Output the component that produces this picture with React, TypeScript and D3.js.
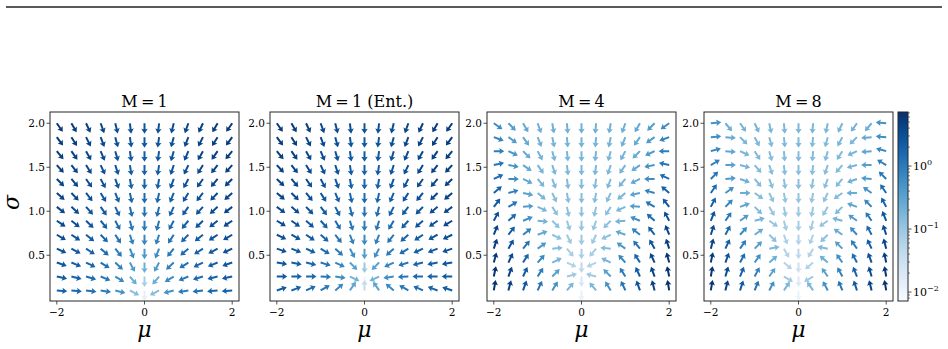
import React from "react";
import * as d3 from "d3";

// grid: mu columns (left half incl. 0, right half mirrored), sigma rows top -> bottom
const muValues = [-2, -1.667, -1.333, -1, -0.667, -0.333, 0, 0.333, 0.667, 1, 1.333, 1.667, 2];
const sigmaValues = [2.0, 1.842, 1.683, 1.525, 1.367, 1.208, 1.05, 0.892, 0.733, 0.575, 0.417, 0.258, 0.1];
const panelTitles = ["M=1", "M=1 (Ent.)", "M=4", "M=8"];
const xTicks = [-2, 0, 2];
const yTicks = [0.5, 1.0, 1.5, 2.0];
const cbarTicks = [-2, -1, 0];

// arrow direction (deg, 0 = +mu, 90 = +sigma), columns mu = -2 .. 0
const angM1 = [
  [-55, -60, -65, -70, -76, -83, -90],
  [-53, -58, -63, -69, -75, -82, -90],
  [-50, -55, -61, -67, -74, -82, -90],
  [-48, -52, -58, -65, -72, -81, -90],
  [-45, -50, -55, -62, -70, -80, -90],
  [-42, -46, -52, -59, -68, -78, -90],
  [-38, -42, -48, -55, -65, -77, -90],
  [-34, -38, -44, -51, -62, -75, -90],
  [-30, -33, -39, -46, -57, -72, -90],
  [-25, -28, -33, -40, -51, -68, -90],
  [-19, -22, -26, -32, -43, -62, -90],
  [-12, -14, -17, -22, -31, -50, -90],
  [-5, -6, -7, -9, -14, -28, -90],
];
const angM1Ent = [
  [-55, -60, -65, -70, -76, -83, -90],
  [-53, -58, -63, -69, -75, -82, -90],
  [-50, -55, -61, -67, -74, -82, -90],
  [-47, -52, -58, -65, -72, -81, -90],
  [-44, -49, -55, -62, -70, -80, -90],
  [-40, -45, -51, -58, -67, -78, -90],
  [-36, -40, -46, -53, -63, -76, -90],
  [-31, -35, -41, -48, -59, -73, -90],
  [-26, -29, -34, -41, -52, -69, -90],
  [-19, -21, -25, -31, -42, -62, -90],
  [-10, -11, -13, -17, -25, -45, -90],
  [0, 0, 0, -2, -8, -25, -90],
  [18, 20, 24, 30, 40, 55, 90],
];
const angM4 = [
  [-35, -45, -60, -70, -80, -85, -90],
  [-20, -35, -55, -68, -78, -85, -90],
  [0, -25, -45, -62, -75, -84, -90],
  [12, -10, -35, -55, -72, -83, -90],
  [25, 0, -25, -50, -70, -82, -90],
  [40, 15, -12, -40, -65, -80, -90],
  [52, 30, 5, -25, -58, -78, -90],
  [62, 42, 22, -5, -45, -72, -90],
  [68, 52, 38, 20, -25, -65, -90],
  [72, 60, 50, 35, 5, -50, -90],
  [75, 65, 58, 48, 25, -25, -90],
  [78, 70, 65, 58, 45, 15, -90],
  [80, 75, 70, 65, 58, 50, -90],
];
const angM8 = [
  [5, -50, -55, -65, -78, -85, -90],
  [5, -5, -45, -62, -75, -84, -90],
  [15, -5, -25, -58, -75, -85, -90],
  [30, 0, -15, -50, -72, -84, -90],
  [45, 5, -20, -50, -70, -82, -90],
  [55, 35, 0, -35, -65, -80, -90],
  [62, 45, 20, -45, -60, -80, -90],
  [68, 55, 35, 15, -35, -75, -90],
  [72, 62, 48, 35, -45, -70, -90],
  [75, 65, 55, 45, 10, -60, -90],
  [78, 70, 62, 55, 40, -40, -90],
  [80, 74, 68, 62, 55, -30, -90],
  [80, 76, 72, 68, 62, 55, -90],
];

// log10 of gradient norm (colour), columns mu = -2 .. 0
const magM1 = [
  [0.75, 0.71, 0.66, 0.61, 0.55, 0.49, 0.46],
  [0.73, 0.69, 0.64, 0.58, 0.51, 0.45, 0.42],
  [0.71, 0.67, 0.61, 0.55, 0.47, 0.4, 0.37],
  [0.69, 0.64, 0.58, 0.51, 0.43, 0.35, 0.32],
  [0.66, 0.61, 0.55, 0.47, 0.38, 0.29, 0.25],
  [0.63, 0.58, 0.51, 0.43, 0.32, 0.22, 0.18],
  [0.6, 0.54, 0.47, 0.38, 0.26, 0.14, 0.1],
  [0.56, 0.5, 0.42, 0.32, 0.19, 0.05, 0.0],
  [0.52, 0.45, 0.37, 0.26, 0.1, -0.06, -0.15],
  [0.47, 0.4, 0.31, 0.19, 0.02, -0.2, -0.35],
  [0.42, 0.34, 0.25, 0.12, -0.08, -0.38, -0.65],
  [0.36, 0.28, 0.18, 0.05, -0.18, -0.6, -1.1],
  [0.3, 0.22, 0.12, 0.0, -0.28, -0.85, -1.85],
];
const magM1Ent = [
  [0.75, 0.71, 0.66, 0.61, 0.55, 0.49, 0.46],
  [0.73, 0.69, 0.64, 0.58, 0.51, 0.45, 0.42],
  [0.71, 0.67, 0.61, 0.55, 0.47, 0.4, 0.37],
  [0.69, 0.64, 0.58, 0.51, 0.43, 0.35, 0.32],
  [0.66, 0.61, 0.55, 0.47, 0.38, 0.29, 0.25],
  [0.63, 0.58, 0.51, 0.43, 0.32, 0.22, 0.18],
  [0.6, 0.54, 0.47, 0.38, 0.26, 0.14, 0.1],
  [0.56, 0.5, 0.42, 0.32, 0.19, 0.04, -0.02],
  [0.52, 0.45, 0.37, 0.26, 0.1, -0.08, -0.18],
  [0.47, 0.4, 0.31, 0.19, 0.0, -0.22, -0.4],
  [0.42, 0.34, 0.24, 0.1, -0.12, -0.45, -1.0],
  [0.38, 0.3, 0.2, 0.05, -0.2, -0.7, -2.0],
  [0.35, 0.27, 0.17, 0.04, -0.15, -0.5, -1.4],
];
const magM4 = [
  [-0.2, -0.42, -0.58, -0.64, -0.67, -0.67, -0.67],
  [-0.12, -0.4, -0.58, -0.67, -0.7, -0.7, -0.7],
  [-0.04, -0.35, -0.58, -0.7, -0.73, -0.73, -0.73],
  [0.06, -0.28, -0.58, -0.72, -0.76, -0.76, -0.76],
  [0.17, -0.2, -0.55, -0.74, -0.8, -0.8, -0.8],
  [0.28, -0.08, -0.5, -0.75, -0.84, -0.84, -0.84],
  [0.4, 0.06, -0.42, -0.75, -0.88, -0.9, -0.9],
  [0.52, 0.2, -0.25, -0.7, -0.9, -0.96, -0.96],
  [0.63, 0.35, -0.07, -0.55, -0.9, -1.02, -1.02],
  [0.72, 0.47, 0.1, -0.37, -0.85, -1.1, -1.12],
  [0.78, 0.58, 0.25, -0.16, -0.75, -1.2, -1.3],
  [0.82, 0.64, 0.37, -0.02, -0.45, -1.05, -1.65],
  [0.85, 0.67, 0.43, 0.1, -0.25, -0.75, -1.9],
];
const magM8 = [
  [-0.28, -0.64, -0.7, -0.73, -0.76, -0.76, -0.76],
  [-0.22, -0.58, -0.73, -0.76, -0.79, -0.79, -0.79],
  [-0.14, -0.52, -0.73, -0.79, -0.82, -0.82, -0.82],
  [-0.05, -0.46, -0.7, -0.82, -0.85, -0.85, -0.85],
  [0.06, -0.38, -0.67, -0.82, -0.88, -0.88, -0.88],
  [0.18, -0.26, -0.62, -0.82, -0.92, -0.95, -0.95],
  [0.3, -0.12, -0.53, -0.8, -0.95, -1.0, -1.0],
  [0.44, 0.05, -0.38, -0.72, -0.95, -1.07, -1.1],
  [0.56, 0.2, -0.2, -0.6, -0.9, -1.14, -1.2],
  [0.65, 0.35, -0.03, -0.42, -0.8, -1.2, -1.32],
  [0.73, 0.47, 0.15, -0.24, -0.65, -1.2, -1.5],
  [0.79, 0.56, 0.29, -0.06, -0.45, -1.05, -1.72],
  [0.82, 0.62, 0.38, 0.08, -0.25, -0.75, -1.95],
];

const panelAngles = [angM1, angM1Ent, angM4, angM8];
const panelMags = [magM1, magM1Ent, magM4, magM8];

const W = 948;
const H = 349;
const panelLefts = [50, 270, 487, 704];
const panelTop = 112;
const panelSize = 189;
const cbar = { x: 898, y: 112, w: 10, h: 189 };
const FONT = "'DejaVu Serif', serif";
const logLo = -2.142;
const logHi = 0.858;
const INK = "#262626";

const color = d3.scaleSequential(d3.interpolateBlues).domain([logLo, logHi]);

// quiver arrow pointing +x, tail at origin
const L = 10.5, sw = 1.0, hl = 5.0, ha = 4.4, hw = 3.2;
const arrowPath = `M0,${-sw}L${L - ha},${-sw}L${L - hl},${-hw}L${L},0L${L - hl},${hw}L${L - ha},${sw}L0,${sw}Z`;

function cell(table: number[][], r: number, c: number) {
  return c <= 6 ? table[r][c] : table[r][12 - c];
}

function Panel({ idx }: { idx: number }) {
  const left = panelLefts[idx];
  const x = d3.scaleLinear().domain([-2.155, 2.155]).range([left, left + panelSize]);
  const y = d3.scaleLinear().domain([-0.02, 2.128]).range([panelTop + panelSize, panelTop]);
  const ang = panelAngles[idx];
  const mag = panelMags[idx];
  const arrows = [];
  sigmaValues.forEach((s, r) => {
    muValues.forEach((m, c) => {
      const a0 = cell(ang, r, c);
      const a = c <= 6 ? a0 : 180 - a0;
      arrows.push(
        <path
          key={`${r}-${c}`}
          d={arrowPath}
          transform={`translate(${x(m)},${y(s)}) rotate(${-a})`}
          fill={color(cell(mag, r, c))}
        />
      );
    });
  });
  const bottom = panelTop + panelSize;
  return (
    <g>
      <text x={left + panelSize / 2} y={panelTop - 5} textAnchor="middle" fontSize={16} fontFamily={FONT}>
        {panelTitles[idx].replace("=", "\u2009=\u2009")}
      </text>
      {arrows}
      <rect x={left} y={panelTop} width={panelSize} height={panelSize} fill="none" stroke={INK} strokeWidth={1} />
      {xTicks.map((t) => (
        <g key={t}>
          <line x1={x(t)} x2={x(t)} y1={bottom} y2={bottom + 3.5} stroke={INK} strokeWidth={0.8} />
          <text x={x(t)} y={bottom + 15} textAnchor="middle" fontSize={10.5} fontFamily={FONT}>
            {t < 0 ? `\u2212${-t}` : t}
          </text>
        </g>
      ))}
      {yTicks.map((t) => (
        <g key={t}>
          <line x1={left - 3.5} x2={left} y1={y(t)} y2={y(t)} stroke={INK} strokeWidth={0.8} />
          <text x={left - 5} y={y(t) + 3.8} textAnchor="end" fontSize={10.5} fontFamily={FONT}>
            {t.toFixed(1)}
          </text>
        </g>
      ))}
      <text x={left + panelSize / 2} y={337} textAnchor="middle" fontSize={22} fontStyle="italic" fontFamily={FONT}>
        μ
      </text>
      {idx === 0 && (
        <text transform={`translate(19,${panelTop + panelSize / 2 - 4}) rotate(-90)`} textAnchor="middle" fontSize={22} fontStyle="italic" fontFamily={FONT}>
          σ
        </text>
      )}
    </g>
  );
}

function Colorbar() {
  const yl = d3.scaleLinear().domain([logLo, logHi]).range([cbar.y + cbar.h, cbar.y]);
  const stops = d3.range(0, 1.0001, 0.05);
  const minor = [];
  for (let e = -3; e <= 0; e++) {
    for (let k = 2; k <= 9; k++) {
      const v = e + Math.log10(k);
      if (v > logLo && v < logHi) minor.push(v);
    }
  }
  return (
    <g>
      <defs>
        <linearGradient id="cbg" x1="0" y1="1" x2="0" y2="0">
          {stops.map((t) => (
            <stop key={t} offset={t} stopColor={d3.interpolateBlues(t)} />
          ))}
        </linearGradient>
      </defs>
      <rect x={cbar.x} y={cbar.y} width={cbar.w} height={cbar.h} fill="url(#cbg)" stroke={INK} strokeWidth={1} />
      {minor.map((v) => (
        <line key={v} x1={cbar.x + cbar.w} x2={cbar.x + cbar.w + 2} y1={yl(v)} y2={yl(v)} stroke={INK} strokeWidth={0.6} />
      ))}
      {cbarTicks.map((e) => (
        <g key={e}>
          <line x1={cbar.x + cbar.w} x2={cbar.x + cbar.w + 3.5} y1={yl(e)} y2={yl(e)} stroke={INK} strokeWidth={0.8} />
          <text x={cbar.x + cbar.w + 5} y={yl(e) + 4} fontSize={11} fontFamily={FONT}>
            10
            <tspan dy={-5} fontSize={8}>
              {e < 0 ? `\u2212${-e}` : e}
            </tspan>
          </text>
        </g>
      ))}
    </g>
  );
}

export default function App() {
  return (
    <svg width={W} height={H} style={{ position: "absolute", left: 0, top: 0, background: "#fff" }}>
      <rect width={W} height={H} fill="#fff" />
      <line x1={6} x2={942} y1={7} y2={7} stroke="#222" strokeWidth={1.4} />
      {panelTitles.map((_, i) => (
        <Panel key={i} idx={i} />
      ))}
      <Colorbar />
    </svg>
  );
}
